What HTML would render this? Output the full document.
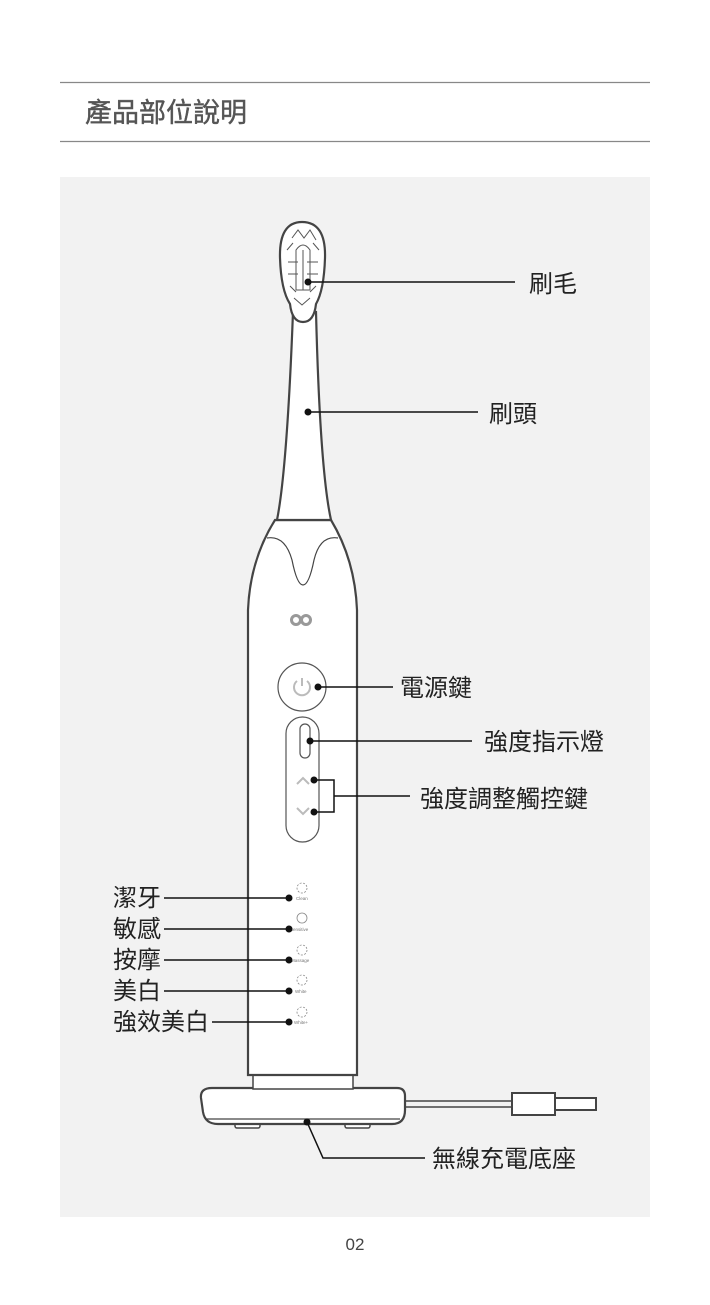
<!DOCTYPE html>
<html><head><meta charset="utf-8"><style>
html,body{margin:0;padding:0;background:#fff;}
body{width:710px;height:1300px;overflow:hidden;}
svg text{font-family:"Liberation Sans","Noto Sans CJK TC",sans-serif;}
</style></head><body>
<svg width="710" height="1300" viewBox="0 0 710 1300" xmlns="http://www.w3.org/2000/svg">
<rect width="710" height="1300" fill="#fff"/>
<line x1="60" y1="82.5" x2="650" y2="82.5" stroke="#888" stroke-width="1.2"/>
<line x1="60" y1="141.5" x2="650" y2="141.5" stroke="#888" stroke-width="1.2"/>
<text x="85" y="122" font-size="27" fill="#555" stroke="#555" stroke-width="0.4">產品部位說明</text>
<rect x="60" y="177" width="590" height="1040" fill="#f2f2f2"/>

<g fill="#fff" stroke="#444" stroke-width="2.2">
<rect x="235" y="1118" width="25" height="10" rx="2" stroke-width="1.5"/>
<rect x="345" y="1118" width="25" height="10" rx="2" stroke-width="1.5"/>
<path d="M405,1101 H512 M405,1107 H512" stroke-width="1.5" fill="none"/>
<rect x="512" y="1093" width="43" height="22" stroke-width="2"/>
<rect x="555" y="1098" width="41" height="12" stroke-width="2"/>
<path d="M212,1088 H397 Q405,1088 405,1096 V1110 Q405,1124 392,1124 H218 Q205,1124 203,1112 L201,1098 Q200,1088 212,1088 Z"/>
<path d="M206,1119 H400" fill="none" stroke-width="1.2"/>
<rect x="253" y="1073" width="100" height="16" stroke-width="1.5"/>
<path d="M248,1075 V610 Q250,560 275,520 H331 Q355,560 357,610 V1075 Z"/>
<path d="M277,520 Q287,470 293,312 H316 Q320,470 331,520 Z"/>
<path d="M267,538 Q285,535 292,560 Q297,585 303,585 Q309,585 314,560 Q320,535 338,538" fill="none" stroke-width="1.2"/>
<path d="M302,222 Q326,222 325,258 Q324,290 316,304 Q314,322 303,322 Q292,322 290,304 Q281,290 280,258 Q279,222 302,222 Z"/>
</g>
<g fill="none" stroke="#555" stroke-width="1">
<path d="M292,238 L298,230 L304,238 L310,230 L316,240 M287,250 L293,243 M313,243 L319,250 M288,262 H298 M307,262 H318 M288,274 H298 M307,274 H318 M290,286 L296,292 M310,292 L316,286 M294,298 L302,305 L310,298"/>
<path d="M296,250 Q303,240 310,250 V290 H296 Z M303,250 V290"/>
</g>
<g fill="none" stroke="#999" stroke-width="3">
<circle cx="296" cy="620" r="4.5"/><circle cx="306" cy="620" r="4.5"/>
</g>
<circle cx="302" cy="687" r="24" fill="#fff" stroke="#555" stroke-width="1.2"/>
<path d="M297,681 A8,8 0 1 0 307,681 M302,678 V686" fill="none" stroke="#bbb" stroke-width="2"/>
<rect x="286" y="717" width="33" height="125" rx="16.5" fill="#fff" stroke="#555" stroke-width="1.2"/>
<rect x="300" y="724" width="10" height="34" rx="5" fill="#fff" stroke="#555" stroke-width="1.2"/>
<path d="M297,784 L303,778 L309,784 M297,808 L303,814 L309,808" fill="none" stroke="#bbb" stroke-width="2"/>
<g fill="none" stroke="#888" stroke-width="0.8" stroke-dasharray="2,1.5">
<circle cx="302" cy="888" r="5"/><circle cx="302" cy="950" r="5"/><circle cx="302" cy="980" r="5"/><circle cx="302" cy="1012" r="5"/>
</g>
<circle cx="302" cy="918" r="5" fill="none" stroke="#888" stroke-width="0.8"/>
<g font-size="4.5" fill="#777">
<text x="296" y="900">Clean</text><text x="290" y="931">Sensitive</text><text x="291" y="962">Massage</text><text x="295" y="993">White</text><text x="294" y="1024">White+</text>
</g>

<g stroke="#111" stroke-width="1.5" fill="none">
<line x1="308" y1="282" x2="515" y2="282"/>
<line x1="308" y1="412" x2="478" y2="412"/>
<line x1="318" y1="687" x2="393" y2="687"/>
<line x1="310" y1="741" x2="472" y2="741"/>
<path d="M314,780 H334 V812 H314 M334,796 H410"/>
<line x1="164" y1="898" x2="289" y2="898"/>
<line x1="164" y1="929" x2="289" y2="929"/>
<line x1="164" y1="960" x2="289" y2="960"/>
<line x1="164" y1="991" x2="289" y2="991"/>
<line x1="212" y1="1022" x2="289" y2="1022"/>
<path d="M307,1122 L323,1158 H425"/>
</g>
<g fill="#111">
<circle cx="308" cy="282" r="3.5"/><circle cx="308" cy="412" r="3.5"/><circle cx="318" cy="687" r="3.5"/>
<circle cx="310" cy="741" r="3.5"/><circle cx="314" cy="780" r="3.5"/><circle cx="314" cy="812" r="3.5"/>
<circle cx="289" cy="898" r="3.5"/><circle cx="289" cy="929" r="3.5"/><circle cx="289" cy="960" r="3.5"/>
<circle cx="289" cy="991" r="3.5"/><circle cx="289" cy="1022" r="3.5"/><circle cx="307" cy="1122" r="3.5"/>
</g>
<g font-size="24" fill="#222">
<text x="529" y="292">刷毛</text>
<text x="489" y="422">刷頭</text>
<text x="400" y="696">電源鍵</text>
<text x="484" y="750">強度指示燈</text>
<text x="420" y="807">強度調整觸控鍵</text>
<text x="113" y="906">潔牙</text>
<text x="113" y="937">敏感</text>
<text x="113" y="968">按摩</text>
<text x="113" y="999">美白</text>
<text x="113" y="1030">強效美白</text>
<text x="432" y="1167">無線充電底座</text>
</g>
<text x="355" y="1250" font-size="17" fill="#444" text-anchor="middle">02</text>
</svg>
</body></html>
